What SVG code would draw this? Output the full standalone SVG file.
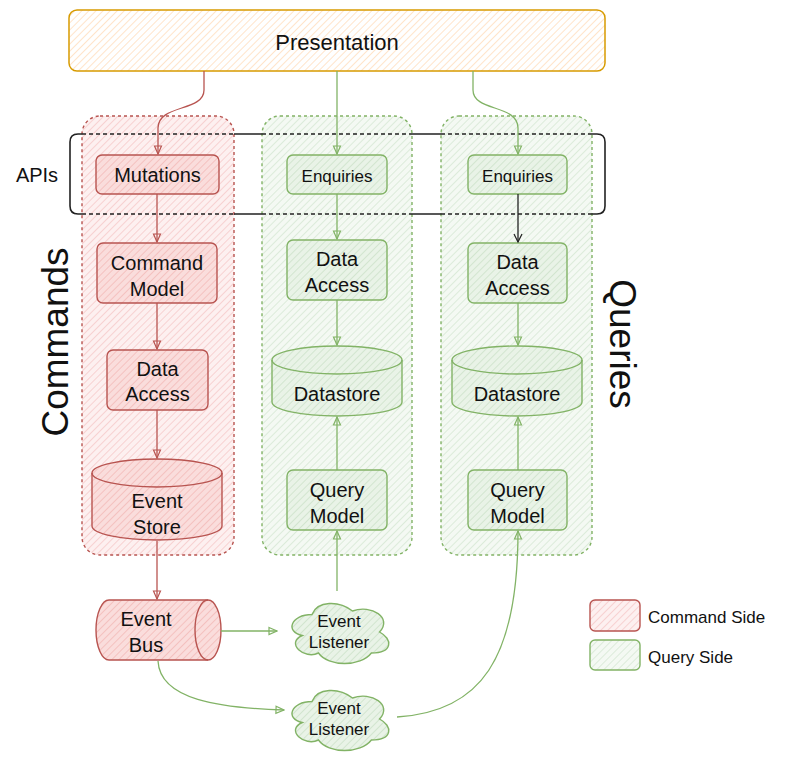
<svg xmlns="http://www.w3.org/2000/svg" width="808" height="768" viewBox="0 0 808 768">
<defs>
<pattern id="hO" patternUnits="userSpaceOnUse" width="5" height="5" patternTransform="rotate(45)">
<line x1="0" y1="0" x2="0" y2="5" stroke="#ffd6ad" stroke-width="1.3"/>
</pattern>
<pattern id="hRc" patternUnits="userSpaceOnUse" width="5" height="5" patternTransform="rotate(45)">
<rect width="5" height="5" fill="#fdf0f0"/>
<line x1="0" y1="0" x2="0" y2="5" stroke="#f4bdbc" stroke-width="1.2"/>
</pattern>
<pattern id="hRn" patternUnits="userSpaceOnUse" width="5" height="5" patternTransform="rotate(45)">
<rect width="5" height="5" fill="#fadddc"/>
<line x1="0" y1="0" x2="0" y2="5" stroke="#f2b2b0" stroke-width="1.3"/>
</pattern>
<pattern id="hGc" patternUnits="userSpaceOnUse" width="5" height="5" patternTransform="rotate(45)">
<rect width="5" height="5" fill="#f4f9f3"/>
<line x1="0" y1="0" x2="0" y2="5" stroke="#cde3ca" stroke-width="1.2"/>
</pattern>
<pattern id="hGn" patternUnits="userSpaceOnUse" width="5" height="5" patternTransform="rotate(45)">
<rect width="5" height="5" fill="#e9f3e7"/>
<line x1="0" y1="0" x2="0" y2="5" stroke="#c6dec2" stroke-width="1.3"/>
</pattern>
<marker id="aR" viewBox="0 0 10 10" refX="9" refY="5" markerWidth="10" markerHeight="10" markerUnits="userSpaceOnUse" orient="auto">
<path d="M1,1.5 L9,5 L1,8.5 Z" fill="none" stroke="#b85450" stroke-width="1.2"/>
</marker>
<marker id="aG" viewBox="0 0 10 10" refX="9" refY="5" markerWidth="10" markerHeight="10" markerUnits="userSpaceOnUse" orient="auto">
<path d="M1,1.5 L9,5 L1,8.5 Z" fill="none" stroke="#82b366" stroke-width="1.2"/>
</marker>
<marker id="aK" viewBox="0 0 10 10" refX="9" refY="5" markerWidth="10" markerHeight="10" markerUnits="userSpaceOnUse" orient="auto">
<path d="M1,1 L9,5 L1,9" fill="none" stroke="#222" stroke-width="1.2"/>
</marker>
</defs>
<style>
text { font-family: "Liberation Sans", "DejaVu Sans", sans-serif; fill: #111; text-anchor: middle; dominant-baseline: central; }
.lbl { font-size: 20px; }
.sm { font-size: 17px; }
.big { font-size: 37px; }
.rn { fill: url(#hRn); stroke: #b85450; stroke-width: 1.4; }
.gn { fill: url(#hGn); stroke: #82b366; stroke-width: 1.4; }
.rc { fill: url(#hRc); stroke: #b85450; stroke-width: 1.4; stroke-dasharray: 3 3; }
.gc { fill: url(#hGc); stroke: #82b366; stroke-width: 1.4; stroke-dasharray: 3 3; }
.er { fill: none; stroke: #b85450; stroke-width: 1.3; marker-end: url(#aR); }
.eg { fill: none; stroke: #82b366; stroke-width: 1.3; marker-end: url(#aG); }
.ek { fill: none; stroke: #222; stroke-width: 1.3; marker-end: url(#aK); }
.api { fill: none; stroke: #222; stroke-width: 1.6; }
.apid { fill: none; stroke: #222; stroke-width: 1.3; stroke-dasharray: 4 3; }
</style>

<!-- containers -->
<g id="commands-container">
<rect class="rc" x="82" y="116" width="152" height="439" rx="18"/>
</g>
<g id="queries-container-1">
<rect class="gc" x="262" y="116" width="150" height="439" rx="18"/>
</g>
<g id="queries-container-2">
<rect class="gc" x="441" y="116" width="151" height="439" rx="18"/>
</g>

<!-- APIs group box -->
<g id="apis">
<path class="api" d="M82,134 H78 Q70,134 70,142 V206 Q70,214 78,214 H82"/>
<path class="api" d="M234,134 H262 M412,134 H441 M592,134 H597 Q605,134 605,142 V206 Q605,214 597,214 H592 M234,214 H262 M412,214 H441"/>
<path class="apid" d="M82,134 H234 M262,134 H412 M441,134 H592 M82,214 H234 M262,214 H412 M441,214 H592"/>
<text class="lbl" x="37" y="175">APIs</text>
</g>

<g id="presentation">
<rect x="69" y="10" width="536" height="61" rx="8" fill="url(#hO)" stroke="#d79b00" stroke-width="1.5"/>
<text x="337" y="42" style="font-size:22px">Presentation</text>
</g>

<g id="commands-label">
<text class="big" transform="translate(55,342) rotate(-90)">Commands</text>
</g>
<g id="queries-label">
<text class="big" transform="translate(622,344) rotate(90)">Queries</text>
</g>

<!-- command side nodes -->
<g id="mutations">
<rect class="rn" x="96" y="155" width="123" height="39" rx="6"/>
<text class="lbl" x="157.5" y="175">Mutations</text>
</g>
<g id="command-model">
<rect class="rn" x="97" y="243" width="120" height="60" rx="6"/>
<text class="lbl" x="157" y="263">Command</text>
<text class="lbl" x="157" y="289">Model</text>
</g>
<g id="data-access-cmd">
<rect class="rn" x="107" y="350" width="101" height="60" rx="6"/>
<text class="lbl" x="157.5" y="369">Data</text>
<text class="lbl" x="157.5" y="394">Access</text>
</g>
<g id="event-store">
<path class="rn" d="M92,473 A65,14 0 0 1 222,473 V526 A65,14 0 0 1 92,526 Z"/>
<path d="M92,473 A65,14 0 0 0 222,473" fill="none" stroke="#b85450" stroke-width="1.4"/>
<text class="lbl" x="157" y="501">Event</text>
<text class="lbl" x="157" y="527">Store</text>
</g>
<g id="event-bus">
<path class="rn" d="M109,600 H208 A13,30 0 0 1 208,660 H109 A13,30 0 0 1 109,600 Z"/>
<path d="M208,600 A13,30 0 0 0 208,660" fill="none" stroke="#b85450" stroke-width="1.4"/>
<text class="lbl" x="146" y="619">Event</text>
<text class="lbl" x="146" y="645">Bus</text>
</g>

<!-- query side 1 -->
<g id="enquiries-1">
<rect class="gn" x="287" y="155" width="100" height="39" rx="6"/>
<text class="sm" x="337" y="176">Enquiries</text>
</g>
<g id="data-access-q1">
<rect class="gn" x="287" y="240" width="100" height="60" rx="6"/>
<text class="lbl" x="337" y="259">Data</text>
<text class="lbl" x="337" y="285">Access</text>
</g>
<g id="datastore-1">
<path class="gn" d="M272,360 A65,14 0 0 1 402,360 V402 A65,14 0 0 1 272,402 Z"/>
<path d="M272,360 A65,14 0 0 0 402,360" fill="none" stroke="#82b366" stroke-width="1.4"/>
<text class="lbl" x="337" y="394">Datastore</text>
</g>
<g id="query-model-1">
<rect class="gn" x="287" y="470" width="100" height="60" rx="6"/>
<text class="lbl" x="337" y="490">Query</text>
<text class="lbl" x="337" y="516">Model</text>
</g>

<!-- query side 2 -->
<g id="enquiries-2">
<rect class="gn" x="468" y="155" width="99" height="39" rx="6"/>
<text class="sm" x="517.5" y="176">Enquiries</text>
</g>
<g id="data-access-q2">
<rect class="gn" x="468" y="243" width="99" height="60" rx="6"/>
<text class="lbl" x="517.5" y="262">Data</text>
<text class="lbl" x="517.5" y="288">Access</text>
</g>
<g id="datastore-2">
<path class="gn" d="M452,360 A65,14 0 0 1 582,360 V402 A65,14 0 0 1 452,402 Z"/>
<path d="M452,360 A65,14 0 0 0 582,360" fill="none" stroke="#82b366" stroke-width="1.4"/>
<text class="lbl" x="517" y="394">Datastore</text>
</g>
<g id="query-model-2">
<rect class="gn" x="468" y="470" width="99" height="60" rx="6"/>
<text class="lbl" x="517.5" y="490">Query</text>
<text class="lbl" x="517.5" y="516">Model</text>
</g>

<!-- event listeners -->
<g id="event-listener-1">
<path class="gn" d="M312,614.5 C290.4,614.5 285,632 302.3,635.5 C285,643.2 304.4,660 318.5,653 C328.2,667 360.6,667 371.4,653 C393,653 393,639 379.5,632 C393,618 371.4,604 352.5,611 C339,600.5 317.4,600.5 312,614.5 Z"/>
<text class="sm" x="339" y="621">Event</text>
<text class="sm" x="339" y="642">Listener</text>
</g>
<g id="event-listener-2">
<path class="gn" transform="translate(0,87)" d="M312,614.5 C290.4,614.5 285,632 302.3,635.5 C285,643.2 304.4,660 318.5,653 C328.2,667 360.6,667 371.4,653 C393,653 393,639 379.5,632 C393,618 371.4,604 352.5,611 C339,600.5 317.4,600.5 312,614.5 Z"/>
<text class="sm" x="339" y="708">Event</text>
<text class="sm" x="339" y="729">Listener</text>
</g>

<!-- legend -->
<g id="legend-command">
<rect x="590" y="600" width="50" height="31" rx="5" fill="url(#hRc)" stroke="#b85450" stroke-width="1.4"/>
<text class="sm" x="648" y="617" style="text-anchor:start">Command Side</text>
</g>
<g id="legend-query">
<rect x="590" y="640" width="50" height="30" rx="5" fill="url(#hGc)" stroke="#82b366" stroke-width="1.4"/>
<text class="sm" x="648" y="657" style="text-anchor:start">Query Side</text>
</g>

<!-- connectors -->
<g id="connectors">
<path class="er" d="M204,71 V90 C204,112 158,104 158,128 V154"/>
<path class="eg" d="M337,71 V154"/>
<path class="eg" d="M473,71 V90 C473,112 518,104 518,128 V154"/>
<path class="er" d="M157,194 V242"/>
<path class="er" d="M157,303 V349"/>
<path class="er" d="M157,410 V458"/>
<path class="er" d="M157,541 V599"/>
<path class="eg" d="M337,194 V239"/>
<path class="eg" d="M337,300 V345"/>
<path class="eg" d="M337,470 V417"/>
<path class="eg" d="M337,591 V531"/>
<path class="ek" d="M518,194 V242"/>
<path class="eg" d="M518,303 V345"/>
<path class="eg" d="M518,470 V417"/>
<path class="eg" d="M221,631 H277"/>
<path class="eg" d="M158,661 C160,700 220,708 284,710"/>
<path class="eg" d="M397,717 C480,712 518,660 518,531"/>
</g>
</svg>
